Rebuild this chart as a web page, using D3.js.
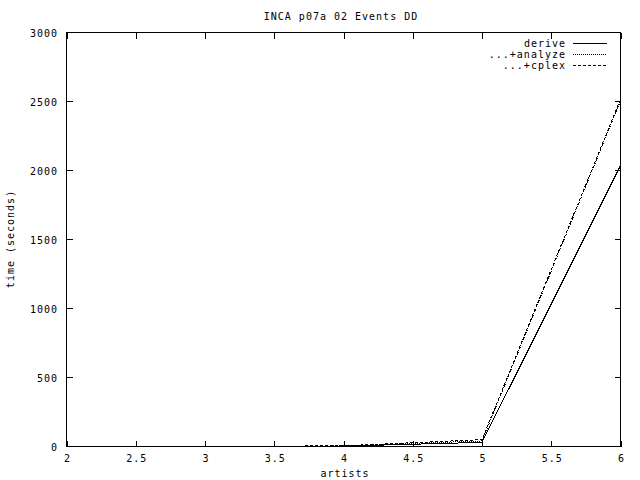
<!DOCTYPE html>
<html><head><meta charset="utf-8">
<script src="https://cdn.jsdelivr.net/npm/d3@7"></script>
<style>
body{margin:0;background:#fff;}
text{font-family:"DejaVu Sans Mono",monospace;font-size:10px;letter-spacing:1px;fill:#000;}
</style></head><body>
<svg id="c" width="640" height="480"></svg>
<script>
const artists = [3, 4, 5, 6];
const derive = [0, 3, 30, 2035];
const analyze = [0, 4, 40, 2505];
const cplex = [0, 5, 50, 2515];
const xTicks = [2, 2.5, 3, 3.5, 4, 4.5, 5, 5.5, 6];
const yTicks = [0, 500, 1000, 1500, 2000, 2500, 3000];
const seriesNames = ["derive", "...+analyze", "...+cplex"];

const svg = d3.select("#c");
const L = 66.5, R = 620.5, T = 32.5, B = 446.5;
const x = d3.scaleLinear().domain([2, 6]).range([L, R]);
const y = d3.scaleLinear().domain([0, 3000]).range([B, T]);

// frame
svg.append("rect").attr("x", L).attr("y", T).attr("width", R - L).attr("height", B - T)
  .attr("fill", "none").attr("stroke", "#000").attr("stroke-width", 1).attr("shape-rendering", "crispEdges");

const tl = 6;
const g = svg.append("g").attr("stroke", "#000").attr("shape-rendering", "crispEdges");
xTicks.forEach(v => {
  const px = Math.round(x(v)) + 0.5;
  g.append("line").attr("x1", px).attr("x2", px).attr("y1", B).attr("y2", B - tl);
  g.append("line").attr("x1", px).attr("x2", px).attr("y1", T).attr("y2", T + tl);
});
yTicks.forEach(v => {
  const py = Math.round(y(v) - 0.5) + 0.5;
  g.append("line").attr("x1", L).attr("x2", L + tl).attr("y1", py).attr("y2", py);
  g.append("line").attr("x1", R).attr("x2", R - tl).attr("y1", py).attr("y2", py);
});

// tick labels
svg.selectAll(".xl").data(xTicks).enter().append("text")
  .attr("x", d => x(d) + 1).attr("y", 462).attr("text-anchor", "middle").text(d => d);
svg.selectAll(".yl").data(yTicks).enter().append("text")
  .attr("x", 58).attr("y", d => y(d) + 4).attr("text-anchor", "end").text(d => d);

// titles
svg.append("text").attr("x", 341).attr("y", 20).attr("text-anchor", "middle").text("INCA p07a 02 Events DD");
svg.append("text").attr("x", 345).attr("y", 477).attr("text-anchor", "middle").text("artists");
svg.append("text").attr("transform", "translate(14,239) rotate(-90)").attr("text-anchor", "middle").text("time (seconds)");

// series
const dashes = [null, "1,1", "3,2"];
const data = [derive, analyze, cplex];
const line = d3.line().x((d, i) => x(artists[i])).y(d => y(d));
data.forEach((s, k) => {
  svg.append("path").datum(s).attr("d", line).attr("fill", "none").attr("stroke", "#000")
    .attr("stroke-width", 1).attr("stroke-dasharray", dashes[k]).attr("shape-rendering", "crispEdges");
});

// legend
seriesNames.forEach((n, k) => {
  const ly = 43 + k * 11;
  svg.append("text").attr("x", 566).attr("y", ly + 4).attr("text-anchor", "end").text(n);
  svg.append("line").attr("x1", 573).attr("x2", 607).attr("y1", ly + 0.5).attr("y2", ly + 0.5)
    .attr("stroke", "#000").attr("stroke-dasharray", dashes[k]).attr("shape-rendering", "crispEdges");
});
</script>
</body></html>
